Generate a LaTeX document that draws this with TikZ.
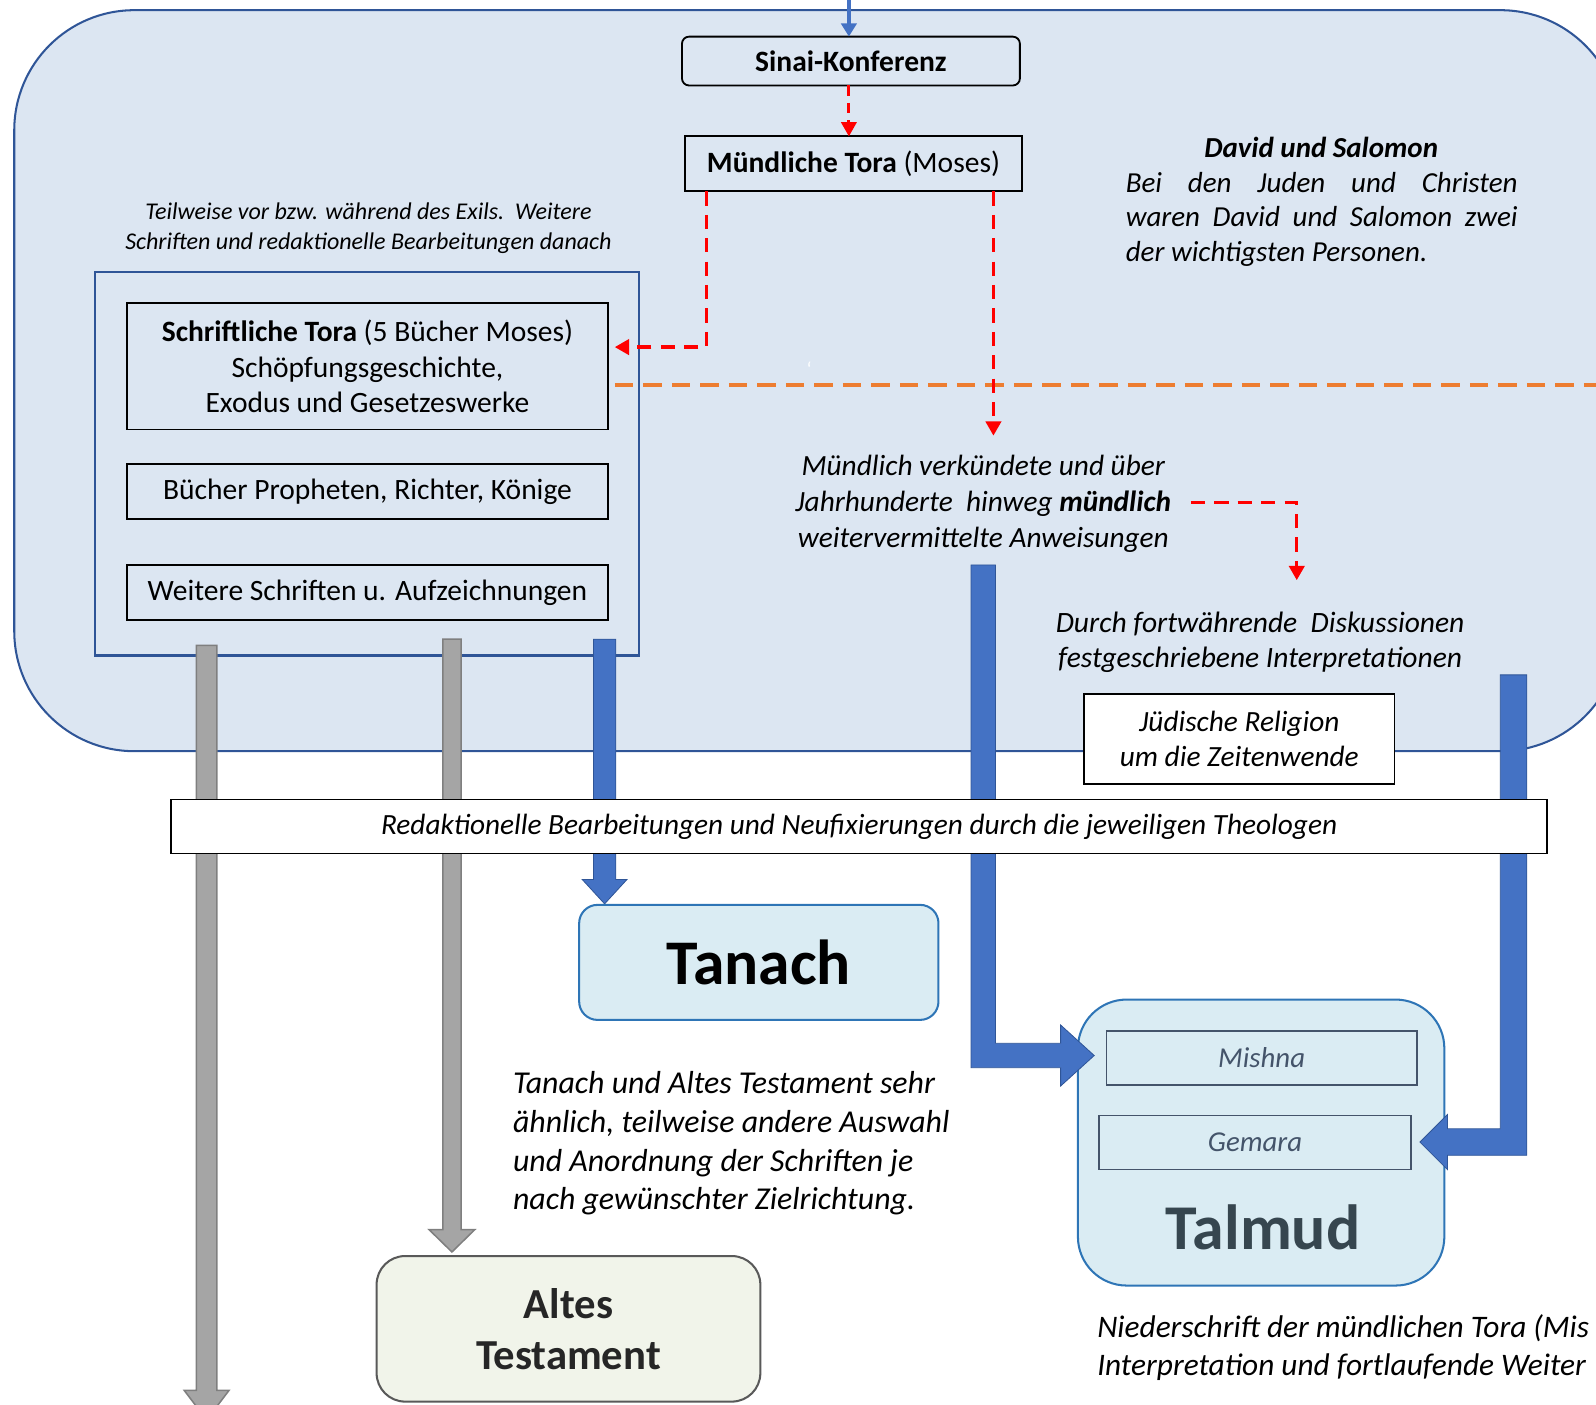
\documentclass[tikz,border=0pt]{standalone}
\usepackage{fontspec}
\setmainfont{Carlito}
\usetikzlibrary{arrows.meta,calc}
\definecolor{bgfill}{HTML}{DCE6F2}
\definecolor{bgline}{HTML}{2F5597}
\definecolor{arrblue}{HTML}{4472C4}
\definecolor{arrgray}{HTML}{A5A5A5}
\definecolor{arrgrayline}{HTML}{7F7F7F}
\definecolor{cyanfill}{HTML}{DAECF3}
\definecolor{cyanline}{HTML}{2E75B6}
\definecolor{greenfill}{HTML}{F1F4EA}
\definecolor{slate}{HTML}{44546A}
\definecolor{talmudtxt}{HTML}{36464F}
\definecolor{orangeline}{HTML}{ED7D31}
\newcommand\vfat[6]{%
  \path[#1] ($(#2)+(-#4,0)$) -- ($(#2)+(#4,0)$) -- ($(#3)+(#4,-#6)$) -- ($(#3)+(#5,-#6)$) -- (#3) -- ($(#3)+(-#5,-#6)$) -- ($(#3)+(-#4,-#6)$) -- cycle;}
\tikzset{
  box/.style={draw=black, line width=1.8pt, inner sep=0pt, align=center},
  reddash/.style={draw=red, line width=3.2pt, dash pattern=on 14pt off 9pt, -{Triangle[width=15pt,length=14pt]}},
  fatblue/.style={fill=arrblue, draw=bgline, line width=0.8pt},
  fatgray/.style={fill=arrgray, draw=arrgrayline, line width=1.5pt},
  itxt/.style={inner sep=0pt, align=center, font=\fontsize{28.8}{35}\selectfont\itshape},
}
\begin{document}
\begin{tikzpicture}[x=1pt,y=-1pt, every node/.style={inner sep=0pt, outer sep=0pt}]
\useasboundingbox (0,0) rectangle (1568,1380);
% background area
\begin{scope}
\clip (0,0) rectangle (1568,1380);
\draw[fill=bgfill, draw=bgline, line width=2pt, rounded corners=118pt] (14,10) rectangle (1592,738);
\end{scope}
\node[text=white, font=\fontsize{20}{24}\selectfont] (tick) at (795,363) {`};

% top nodes
\node[box, rounded corners=7pt, minimum width=332pt, minimum height=48pt, font=\fontsize{29}{34}\selectfont\bfseries] (sinai) at (836,60) {Sinai-Konferenz};
\node[box, minimum width=331pt, minimum height=54pt, font=\fontsize{29}{34}\selectfont] (mtora) at (838.5,161) {\textbf{Mündliche Tora} (Moses)};
\coordinate (topin) at (834,0);
\draw[draw=arrblue, line width=4pt, -{Triangle[width=15pt,length=13pt]}] (topin) -- (sinai.north -| topin);
\draw[reddash, line width=2.8pt, dash pattern=on 10pt off 7pt] (sinai.south -| topin) -- (mtora.north -| topin);

% left frame and boxes
\node[draw=bgline, line width=2.2pt, minimum width=535pt, minimum height=377pt] (frame) at (360.5,455.5) {};
\node[box, minimum width=472pt, minimum height=124pt, font=\fontsize{29}{35}\selectfont] (stora) at (361,360)
  {\textbf{Schriftliche Tora} (5 Bücher Moses)\\Schöpfungsgeschichte,\\Exodus und Gesetzeswerke};
\node[box, minimum width=472pt, minimum height=54pt, font=\fontsize{29}{34}\selectfont] (buecher) at (361,483) {Bücher Propheten, Richter, Könige};
\node[box, minimum width=472pt, minimum height=54pt, font=\fontsize{29}{34}\selectfont] (weitere) at (361,582) {Weitere Schriften u. Aufzeichnungen};

\node[itxt, font=\fontsize{23.6}{29}\selectfont\itshape] (teilw) at (362,224)
  {Teilweise vor bzw. während des Exils.\ \ Weitere\\Schriften und redaktionelle Bearbeitungen danach};

% David und Salomon
\node[font=\fontsize{28.5}{34}\selectfont\bfseries\itshape] (dtitle) at (1298,145) {David und Salomon};
\node[anchor=base west, font=\fontsize{28.5}{34}\selectfont\itshape] (d1) at (1106,189) {\makebox[385pt][s]{Bei den Juden und Christen}};
\node[anchor=base west, font=\fontsize{28.5}{34}\selectfont\itshape] (d2) at (1106,223) {\makebox[385pt][s]{waren David und Salomon zwei}};
\node[anchor=base west, font=\fontsize{28.5}{34}\selectfont\itshape] (d3) at (1106,257) {der wichtigsten Personen.};

% orange dashed line
\coordinate (oL) at (604,378);
\coordinate (oR) at (1568,378);
\draw[draw=orangeline, line width=3.5pt, dash pattern=on 18pt off 10pt] (oL) -- (oR);

% Mündlich text
\node[itxt] (mtext) at (966,495)
  {Mündlich verkündete und über\\Jahrhunderte\ \ hinweg \textbf{mündlich}\\weitervermittelte Anweisungen};
\node[itxt, font=\fontsize{29}{34}\selectfont\itshape] (durch) at (1238,631)
  {Durch fortwährende\ \ Diskussionen\\festgeschriebene Interpretationen};

% red dashed connectors
\coordinate (r1a) at (694,188);
\coordinate (r1b) at (604,341);
\draw[reddash] (r1a) |- (r1b);
\coordinate (r2a) at (976,188);
\coordinate (r2b) at (976,428);
\draw[reddash] (r2a) -- (r2b);
\coordinate (r3a) at (1170,494);
\coordinate (r3b) at (1274,570);
\draw[reddash] (r3a) -| (r3b);

% thick arrows on the left
\coordinate (g1s) at (203,634);
\coordinate (g1e) at (203,1395);
\vfat{fatgray}{g1s}{g1e}{10}{22}{29}
\coordinate (g2s) at (444,628);
\coordinate (g2e) at (444,1230);
\vfat{fatgray}{g2s}{g2e}{9}{22.5}{22}
\coordinate (b1s) at (594,628);
\coordinate (b1e) at (594,888);
\vfat{fatblue}{b1s}{b1e}{11}{22}{24}

% Jüdische Religion
\node[box, fill=white, minimum width=305pt, minimum height=88pt, font=\fontsize{28.8}{35}\selectfont\itshape] (juedisch) at (1217.5,726)
  {Jüdische Religion\\um die Zeitenwende};

% Tanach
\node[draw=cyanline, fill=cyanfill, line width=2pt, rounded corners=18pt, minimum width=353pt, minimum height=113pt, font=\fontsize{62.5}{68}\selectfont\bfseries] (tanach) at (745.5,945.5) {Tanach};
\node[anchor=north west, align=left, font=\fontsize{31.3}{38}\selectfont\itshape] (ttext) at (504,1053)
  {Tanach und Altes Testament sehr\\ähnlich, teilweise andere Auswahl\\und Anordnung der Schriften je\\nach gewünschter Zielrichtung.};

% Altes Testament
\node[draw=black!65, fill=greenfill, line width=2pt, rounded corners=28pt, minimum width=377pt, minimum height=143pt, align=center, text=black!85, font=\fontsize{42}{50}\selectfont\bfseries] (altes) at (558.5,1305.5) {Altes\\Testament};

% Talmud
\node[draw=cyanline, fill=cyanfill, line width=2pt, rounded corners=48pt, minimum width=360pt, minimum height=281pt] (talmud) at (1239,1122.5) {};
\node[draw=slate, line width=1.6pt, minimum width=305pt, minimum height=53pt, text=slate, font=\fontsize{28.3}{34}\selectfont\itshape] (mishna) at (1239.5,1039.5) {Mishna};
\node[draw=slate, line width=1.6pt, minimum width=306pt, minimum height=53pt, text=slate, font=\fontsize{28.3}{34}\selectfont\itshape] (gemara) at (1233,1122.5) {Gemara};
\node[text=talmudtxt, font=\fontsize{62.7}{68}\selectfont\bfseries] (talmudlbl) at (1241,1206) {Talmud};

% thick connectors to the Talmud
\coordinate (ls) at (966,555);
\coordinate (lt) at (1075,1037);
\path[fatblue] ($(ls)+(-12,0)$) -- ($(ls)+(12,0)$) -- ($(ls|-lt)+(12,-12)$) -- ($(lt)+(-33,-12)$) -- ($(lt)+(-33,-30)$) -- (lt) -- ($(lt)+(-33,30)$) -- ($(lt)+(-33,12)$) -- ($(ls|-lt)+(-12,12)$) -- cycle;
\coordinate (rs) at (1487,663);
\coordinate (rt) at (1395,1122);
\path[fatblue] ($(rs)+(-13,0)$) -- ($(rs)+(13,0)$) -- ($(rs|-rt)+(13,13)$) -- ($(rt)+(27,13)$) -- ($(rt)+(27,27)$) -- (rt) -- ($(rt)+(27,-27)$) -- ($(rt)+(27,-13)$) -- ($(rs|-rt)+(-13,-13)$) -- cycle;

% bar over the arrows
\node[box, fill=white, line width=1.5pt, minimum width=1352pt, minimum height=53pt, font=\fontsize{28.8}{34}\selectfont\itshape] (redakt) at (844,812)
  {Redaktionelle Bearbeitungen und Neufixierungen durch die jeweiligen Theologen};

% bottom text (as far as it is shown)
\node[anchor=north west, align=left, font=\fontsize{30.8}{37}\selectfont\itshape] (ntext) at (1078,1292)
  {Niederschrift der mündlichen Tora (Mis\\Interpretation und fortlaufende Weiter};
\end{tikzpicture}
\end{document}
